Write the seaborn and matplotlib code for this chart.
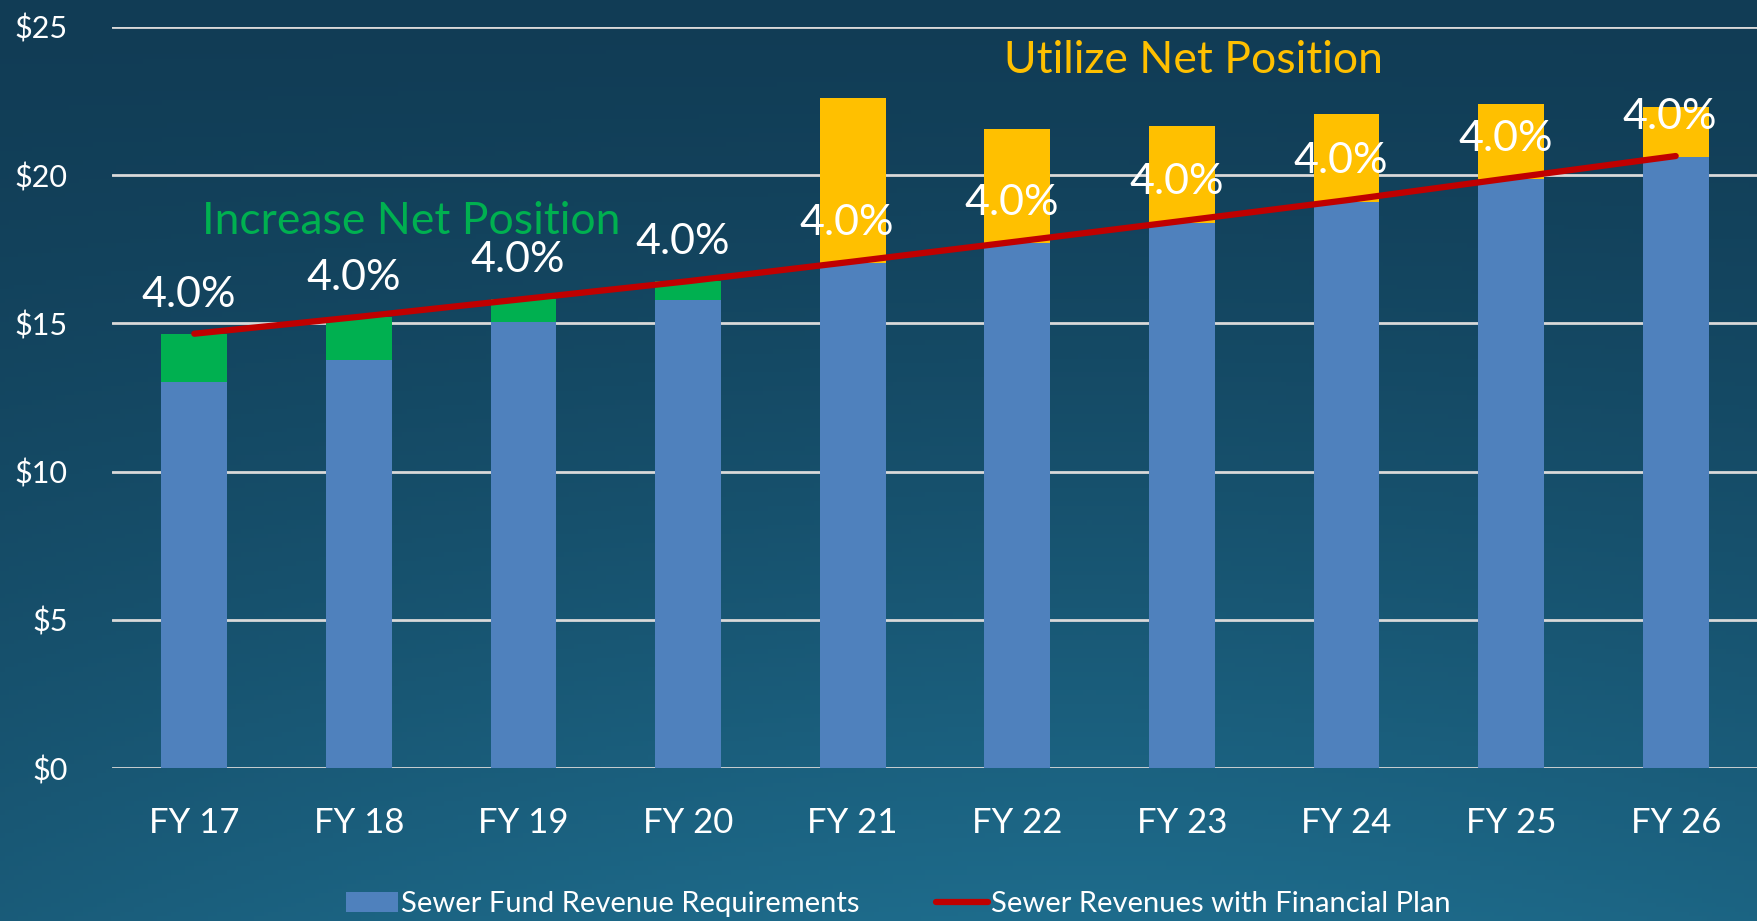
import numpy as np
import pandas as pd
import matplotlib
matplotlib.use("Agg")
import matplotlib.pyplot as plt
import seaborn as sns
from matplotlib.patches import Patch
from matplotlib.lines import Line2D

# ---- data ----
years = ["FY 17", "FY 18", "FY 19", "FY 20", "FY 21", "FY 22", "FY 23", "FY 24", "FY 25", "FY 26"]
requirements = [13.03, 13.76, 15.05, 15.78, 17.04, 17.72, 18.39, 19.10, 19.85, 20.61]
increase_net = [1.62, 1.46, 0.77, 0.64, 0, 0, 0, 0, 0, 0]
utilize_net = [0, 0, 0, 0, 5.55, 3.83, 3.26, 2.95, 2.54, 1.68]
revenues = [14.65, 15.22, 15.82, 16.42, 17.08, 17.76, 18.45, 19.15, 19.90, 20.64]
rate_labels = ["4.0%"] * 10
y_ticks = [0, 5, 10, 15, 20, 25]
y_tick_labels = ["$0", "$5", "$10", "$15", "$20", "$25"]

BLUE = "#4F81BD"
GREEN = "#00B050"
YELLOW = "#FFC000"
RED = "#C00000"
FONT = ["Lato", "DejaVu Sans"]

sns.set_theme(style="white")
plt.rcParams["font.family"] = FONT

fig = plt.figure(figsize=(17.58, 9.21), dpi=100)

# background gradient
bg = fig.add_axes([0, 0, 1, 1], zorder=-10)
h, w = 200, 380
yy, xx = np.mgrid[0:1:h * 1j, 0:1:w * 1j]
top = np.array([0x11, 0x3C, 0x55]) / 255
bot = np.array([0x1E, 0x6C, 0x8C]) / 255
t = np.clip(yy ** 1.3 * (1 - 0.35 * np.abs(xx - 0.62) ** 1.5 * 2), 0, 1)
img = top[None, None, :] * (1 - t[..., None]) + bot[None, None, :] * t[..., None]
bg.imshow(img, aspect="auto", extent=[0, 1, 0, 1], origin="upper")
bg.set_axis_off()

ax = fig.add_axes([112 / 1758, 1 - 768.3 / 921, 1 - 112 / 1758, (768.3 - 26.7) / 921])
ax.set_facecolor("none")

df = pd.DataFrame({
    "year": years,
    "req": requirements,
    "total": [r + a + b for r, a, b in zip(requirements, increase_net, utilize_net)],
    "kind": ["inc" if a > 0 else "use" for a in increase_net],
})

sns.barplot(data=df, x="year", y="total", hue="kind", palette={"inc": GREEN, "use": YELLOW},
            width=0.40, dodge=False, legend=False, saturation=1, ax=ax, zorder=2,
            edgecolor="none", linewidth=0)
sns.barplot(data=df, x="year", y="req", color=BLUE, width=0.40, saturation=1, ax=ax, zorder=3,
            edgecolor="none", linewidth=0)
sns.lineplot(x=np.arange(len(years)), y=revenues, color=RED, linewidth=4.5, ax=ax, zorder=4,
             solid_capstyle="round")

for i, (lab, v) in enumerate(zip(rate_labels, revenues)):
    ax.annotate(lab, (i, v), xytext=(-4, 28), textcoords="offset points", ha="center", va="center",
                color="white", fontsize=31, zorder=5)

ax.text(1.32, 18.43, "Increase Net Position", color=GREEN, fontsize=32, ha="center", va="center", zorder=5)
ax.text(6.07, 23.86, "Utilize Net Position", color=YELLOW, fontsize=32, ha="center", va="center", zorder=5)

ax.set_xlim(-0.5, len(years) - 0.5)
ax.set_ylim(0, 25)
ax.set_yticks(y_ticks)
ax.set_yticklabels(y_tick_labels)
ax.yaxis.grid(True, color="#D9D9D9", linewidth=2)
ax.xaxis.grid(False)
ax.set_axisbelow(True)
for s in ax.spines.values():
    s.set_visible(False)
ax.tick_params(axis="y", length=0, pad=32, labelsize=22, labelcolor="white")
ax.tick_params(axis="x", length=0, pad=28, labelsize=25, labelcolor="white")
ax.set_xlabel("")
ax.set_ylabel("")

handles = [Patch(facecolor=BLUE, edgecolor="none"), Line2D([0], [0], color=RED, linewidth=4.5)]
leg = fig.legend(handles, ["Sewer Fund Revenue Requirements", "Sewer Revenues with Financial Plan"],
                 loc="center", bbox_to_anchor=(0.511, 1 - 904 / 921), ncol=2, frameon=False,
                 fontsize=21, labelcolor="white", handlelength=1.8, handletextpad=0.1,
                 columnspacing=2.6)

fig.savefig("out.png", dpi=100, facecolor=fig.get_facecolor())
